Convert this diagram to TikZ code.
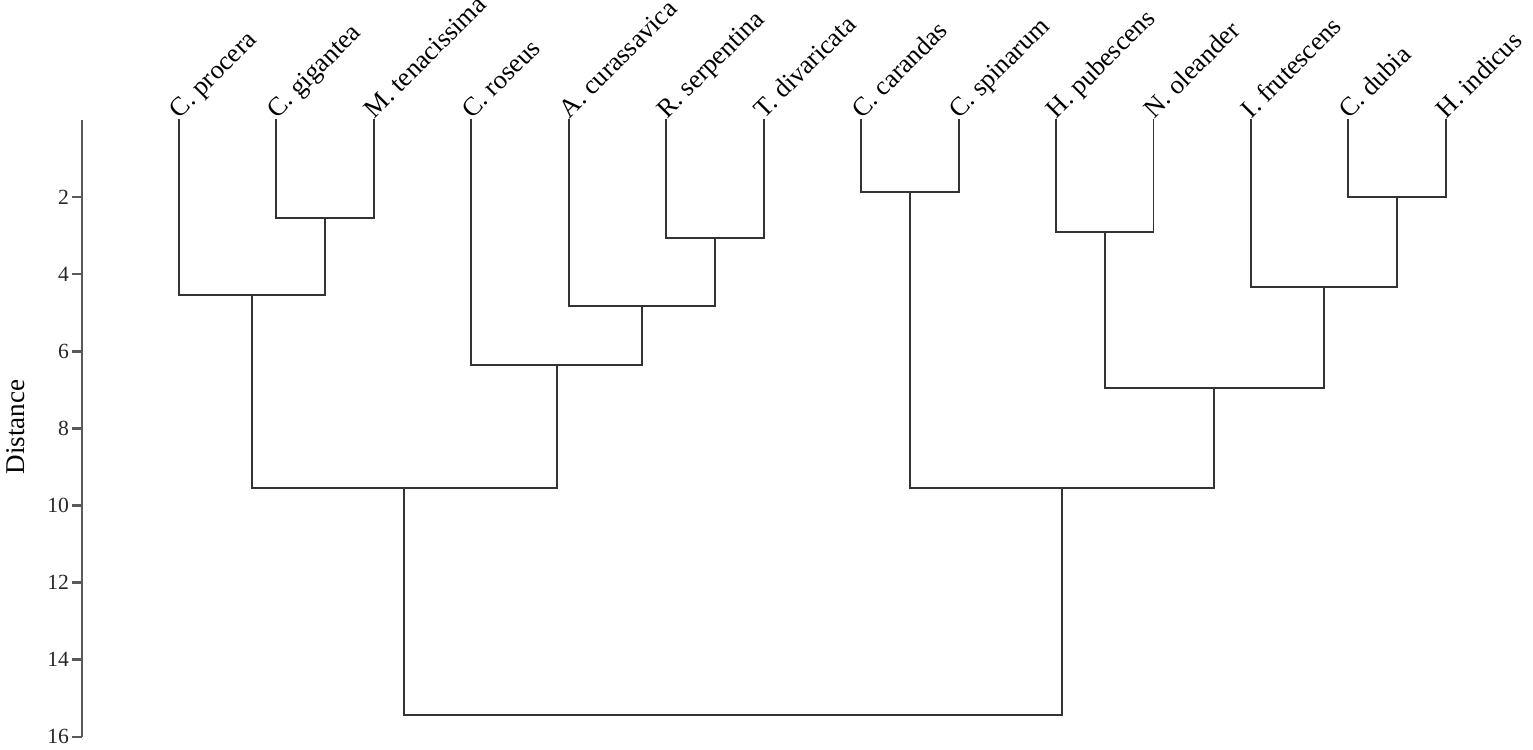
\documentclass[tikz,border=0pt]{standalone}
\usepackage{fontspec}
\setmainfont{Liberation Serif}
\usetikzlibrary{positioning,calc}

\tikzset{
  branch/.style={line width=1.1pt, black!80, line cap=rect},
  axisline/.style={line width=1.4pt, black!65},
  taxon/.style={font=\fontsize{15}{18}\selectfont, rotate=45, anchor=base west, inner sep=0pt, xshift=0.5pt},
  ticklab/.style={font=\fontsize{12.3}{14}\selectfont, text=black!85, anchor=east, inner sep=0pt},
  axistitle/.style={font=\fontsize{15.4}{18}\selectfont, rotate=90, inner sep=0pt}
}

\begin{document}
\begin{tikzpicture}[x=1.949cm, y=-0.771cm]
  \useasboundingbox (-1.8368,-3.1128) rectangle (13.894,16.342);

  % leaves
  \foreach \nm/\lab [count=\i from 0] in {procera/C. procera, gigantea/C. gigantea,
      tenac/M. tenacissima, roseus/C. roseus, curass/A. curassavica,
      serpent/R. serpentina, divar/T. divaricata, carand/C. carandas,
      spinar/C. spinarum, pubesc/H. pubescens, oleand/N. oleander,
      frutesc/I. frutescens, dubia/C. dubia, indicus/H. indicus} {
    \coordinate (\nm) at (\i,0);
    \node[taxon] (\nm-lab) at (\nm) {\lab};
  }

  % merge points
  \coordinate (gt) at (1.5,2.54);
  \coordinate (pgt) at (0.75,4.54);
  \coordinate (sd) at (5.5,3.06);
  \coordinate (csd) at (4.75,4.82);
  \coordinate (rcsd) at (3.875,6.36);
  \coordinate (grpA) at (2.3125,9.55);
  \coordinate (cs) at (7.5,1.87);
  \coordinate (po) at (9.5,2.9);
  \coordinate (di) at (12.5,2.0);
  \coordinate (fdi) at (11.75,4.33);
  \coordinate (pofdi) at (10.625,6.95);
  \coordinate (grpB) at (9.0625,9.55);
  \coordinate (root) at (5.6875,15.43);

  \draw[branch] (gigantea) |- (gt) -| (tenac);
  \draw[branch] (procera) |- (pgt) -| (gt);
  \draw[branch] (serpent) |- (sd) -| (divar);
  \draw[branch] (curass) |- (csd) -| (sd);
  \draw[branch] (roseus) |- (rcsd) -| (csd);
  \draw[branch] (pgt) |- (grpA) -| (rcsd);
  \draw[branch] (carand) |- (cs) -| (spinar);
  \draw[branch] (pubesc) |- (po) -| (oleand);
  \draw[branch] (dubia) |- (di) -| (indicus);
  \draw[branch] (frutesc) |- (fdi) -| (di);
  \draw[branch] (po) |- (pofdi) -| (fdi);
  \draw[branch] (cs) |- (grpB) -| (pofdi);
  \draw[branch] (grpA) |- (root) -| (grpB);

  % distance axis
  \coordinate (ax0) at (-0.9954,0);
  \coordinate (ax16) at (-0.9954,16);
  \draw[axisline] (ax0) -- (ax16);
  \foreach \d in {2,4,...,16} {
    \coordinate (tk\d) at (-0.9954,\d);
    \draw[axisline] (tk\d) -- ++(-0.1026,0) node[ticklab, xshift=-1pt] (tl\d) {\d};
  }
  \node[axistitle] (dist) at (-1.6727,7.96) {Distance};
\end{tikzpicture}
\end{document}
